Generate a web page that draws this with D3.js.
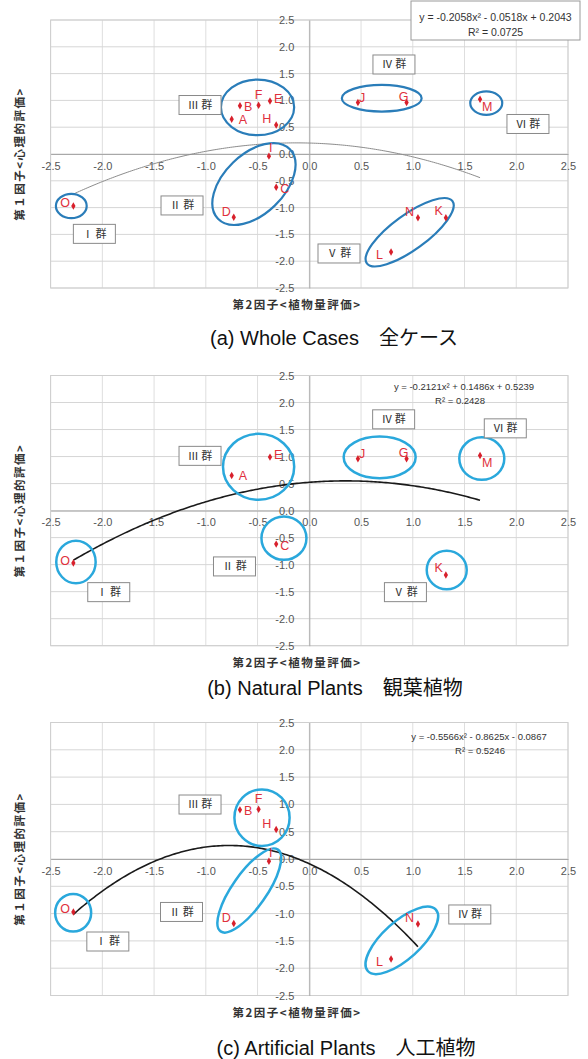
<!DOCTYPE html>
<html>
<head>
<meta charset="utf-8">
<script src="https://cdn.jsdelivr.net/npm/d3@7"></script>
<style>
  body { margin: 0; background: #fff; }
  text { font-family: "Liberation Sans", Arial, sans-serif; }
</style>
</head>
<body>
<div id="chart"></div>
<script>
// --- data ---
const caseIds = ["A", "B", "C", "D", "E", "F", "G", "H", "I", "J", "K", "L", "M", "N", "O"];
const factor2 = [-0.75, -0.67, -0.32, -0.73, -0.38, -0.49, 0.94, -0.32, -0.39, 0.47, 1.32, 0.79, 1.65, 1.05, -2.28]; // x: 植物量評価
const factor1 = [0.65, 0.90, -0.62, -1.18, 0.99, 0.91, 0.96, 0.54, -0.04, 0.96, -1.19, -1.83, 1.02, -1.19, -0.97]; // y: 心理的評価

const casesWhole = caseIds;
const casesNatural = ["A", "E", "J", "G", "M", "C", "O", "K"];
const casesArtificial = ["B", "F", "H", "I", "D", "O", "N", "L"];

const trendWhole = [-0.2058, -0.0518, 0.2043];
const trendNatural = [-0.2121, 0.1486, 0.5239];
const trendArtificial = [-0.5566, -0.8625, -0.0867];

const eqWhole = ["y = -0.2058x\u00b2 - 0.0518x + 0.2043", "R\u00b2 = 0.0725"];
const eqNatural = ["y = -0.2121x\u00b2 + 0.1486x + 0.5239", "R\u00b2 = 0.2428"];
const eqArtificial = ["y = -0.5566x\u00b2 - 0.8625x - 0.0867", "R\u00b2 = 0.5246"];

// group labels, placed in data coordinates
const groupsWhole = [
  { t: "Ⅲ 群", x: -1.056, y: 0.914 }, { t: "Ⅳ 群", x: 0.818, y: 1.67 },
  { t: "Ⅵ 群", x: 2.113, y: 0.56 }, { t: "Ⅱ 群", x: -1.23, y: -0.96 },
  { t: "Ⅰ 群", x: -2.077, y: -1.49 }, { t: "Ⅴ 群", x: 0.287, y: -1.856 }
];
const groupsNatural = [
  { t: "Ⅲ 群", x: -1.056, y: 1.013 }, { t: "Ⅳ 群", x: 0.815, y: 1.689 },
  { t: "Ⅵ 群", x: 1.894, y: 1.522 }, { t: "Ⅱ 群", x: -0.723, y: -1.033 },
  { t: "Ⅰ 群", x: -1.938, y: -1.509 }, { t: "Ⅴ 群", x: 0.929, y: -1.509 }
];
const groupsArtificial = [
  { t: "Ⅲ 群", x: -1.056, y: 0.998 }, { t: "Ⅱ 群", x: -1.235, y: -0.97 },
  { t: "Ⅰ 群", x: -1.947, y: -1.511 }, { t: "Ⅳ 群", x: 1.551, y: -1.016 }
];

// cluster rings: centre in data coords, radii in px, rotation in degrees
const ringsWhole = [
  { cx: -0.50, cy: 0.87, rx: 36.6, ry: 27.8, rot: 0 },
  { cx: -0.535, cy: -0.56, rx: 50, ry: 30, rot: -44 },
  { cx: 0.70, cy: 1.04, rx: 39.9, ry: 13.3, rot: 0 },
  { cx: 1.71, cy: 0.95, rx: 16, ry: 11.7, rot: 0 },
  { cx: -2.30, cy: -0.97, rx: 15.4, ry: 12.2, rot: 0 },
  { cx: 0.97, cy: -1.46, rx: 52.9, ry: 17.5, rot: -36 }
];
const ringsNatural = [
  { cx: -0.49, cy: 0.81, rx: 35.6, ry: 33, rot: 0 },
  { cx: -0.245, cy: -0.51, rx: 22.5, ry: 21.7, rot: 0 },
  { cx: 0.68, cy: 0.985, rx: 36, ry: 20.8, rot: 0 },
  { cx: 1.667, cy: 0.963, rx: 22.5, ry: 21.3, rot: 0 },
  { cx: -2.255, cy: -0.95, rx: 19.7, ry: 21.3, rot: 0 },
  { cx: 1.328, cy: -1.10, rx: 20, ry: 19.3, rot: 0 }
];
const ringsArtificial = [
  { cx: -0.457, cy: 0.756, rx: 27.6, ry: 28.3, rot: 0 },
  { cx: -0.58, cy: -0.577, rx: 49.9, ry: 17.1, rot: -55 },
  { cx: -2.282, cy: -0.985, rx: 18, ry: 18.8, rot: 0 },
  { cx: 0.894, cy: -1.49, rx: 45.8, ry: 18.8, rot: -42 }
];

const tickVals = [-2.5, -2.0, -1.5, -1.0, -0.5, 0.0, 0.5, 1.0, 1.5, 2.0, 2.5];

// point label placement: [dx, dy, anchor]
const labelPlace = {
  A: [7, 5, "start"], B: [4, 5, "start"], C: [4, 6, "start"], D: [-3, -1, "end"],
  E: [4, 2, "start"], F: [0, -6, "middle"], G: [-3, -1.5, "middle"], H: [-5, -2, "end"],
  I: [0, -4, "start"], J: [1, -1, "start"], K: [-3, -3, "end"], L: [-8, 7, "end"],
  M: [2, 12, "start"], N: [-4, -2, "end"], O: [-3.5, 1.5, "end"]
};

const W = 588, H = 1059;
const svg = d3.select("#chart").append("svg")
  .attr("width", W).attr("height", H)
  .style("display", "block");
svg.append("rect").attr("width", W).attr("height", H).attr("fill", "#fff");

const x = d3.scaleLinear().domain([-2.5, 2.5]).range([50.6, 568]);
const fmt = d => d.toFixed(1);

function drawPanel(opt) {
  const y = d3.scaleLinear().domain([-2.5, 2.5]).range([opt.bottom, opt.top]);
  const g = svg.append("g");

  // grid
  g.selectAll(".vg").data(tickVals).join("line")
    .attr("x1", d => x(d)).attr("x2", d => x(d))
    .attr("y1", opt.top).attr("y2", opt.bottom)
    .attr("stroke", "#dedede").attr("stroke-width", 1);
  g.selectAll(".hg").data(tickVals).join("line")
    .attr("x1", x(-2.5)).attr("x2", x(2.5))
    .attr("y1", d => y(d)).attr("y2", d => y(d))
    .attr("stroke", "#d6d6d6").attr("stroke-width", 1);
  g.append("rect")
    .attr("x", x(-2.5)).attr("y", opt.top)
    .attr("width", x(2.5) - x(-2.5)).attr("height", opt.bottom - opt.top)
    .attr("fill", "none").attr("stroke", "#cfcfcf");

  // axes crossing at 0
  const ax = g.append("g")
    .attr("transform", `translate(0,${y(0)})`)
    .call(d3.axisBottom(x).tickValues(tickVals).tickFormat(fmt).tickSize(0).tickSizeOuter(0).tickPadding(8));
  const ay = g.append("g")
    .attr("transform", `translate(${x(0)},0)`)
    .call(d3.axisLeft(y).tickValues(tickVals).tickFormat(fmt).tickSize(0).tickSizeOuter(0).tickPadding(15));
  [ax, ay].forEach(a => {
    a.select(".domain").attr("stroke", "#a8a8a8");
    a.selectAll("text").attr("fill", "#555").attr("font-size", 11)
      .style("font-family", "'Liberation Sans', Arial, sans-serif");
  });

  // trend curve
  const [a2, a1, a0] = opt.trend;
  const pts = opt.cases.map(c => factor2[caseIds.indexOf(c)]);
  const xmin = d3.min(pts), xmax = d3.max(pts);
  const xs = d3.range(xmin, xmax, 0.02).concat([xmax]);
  g.append("path")
    .datum(xs)
    .attr("fill", "none")
    .attr("stroke", opt.curveColor)
    .attr("stroke-width", opt.curveWidth)
    .attr("d", d3.line().x(d => x(d)).y(d => y(a2 * d * d + a1 * d + a0)));

  // cluster rings
  g.selectAll(".ring").data(opt.rings).join("ellipse")
    .attr("transform", d => `translate(${x(d.cx)},${y(d.cy)}) rotate(${d.rot})`)
    .attr("rx", d => d.rx).attr("ry", d => d.ry)
    .attr("fill", "none")
    .attr("stroke", opt.ringColor)
    .attr("stroke-width", opt.ringWidth);

  // points
  const data = opt.cases.map(c => {
    const i = caseIds.indexOf(c);
    return { id: c, fx: factor2[i], fy: factor1[i] };
  });
  g.selectAll(".pt").data(data).join("path")
    .attr("transform", d => `translate(${x(d.fx)},${y(d.fy)})`)
    .attr("d", d3.symbol(d3.symbolDiamond, 16))
    .attr("fill", "#d8202c");
  g.selectAll(".pl").data(data).join("text")
    .attr("x", d => x(d.fx) + labelPlace[d.id][0])
    .attr("y", d => y(d.fy) + labelPlace[d.id][1])
    .attr("text-anchor", d => labelPlace[d.id][2])
    .attr("font-size", 12.5)
    .attr("fill", "#e0303c")
    .text(d => d.id);

  // group boxes
  const gb = g.selectAll(".gb").data(opt.groups).join("g")
    .attr("transform", d => `translate(${x(d.x)},${y(d.y)})`);
  gb.append("rect")
    .attr("x", -21).attr("y", -9.5).attr("width", 42).attr("height", 19)
    .attr("fill", "#fff").attr("stroke", "#8a8a8a").attr("stroke-width", 1);
  gb.append("text")
    .attr("text-anchor", "middle").attr("dy", "0.36em")
    .attr("font-size", 11)
    .attr("fill", "#333")
    .style("font-family", "'Noto Sans CJK JP', sans-serif")
    .text(d => d.t);

  // equation
  if (opt.eqBox) {
    g.append("rect")
      .attr("x", opt.eqBox[0]).attr("y", opt.eqBox[1])
      .attr("width", opt.eqBox[2]).attr("height", opt.eqBox[3])
      .attr("fill", "#fff").attr("stroke", "#9a9a9a");
  }
  g.selectAll(".eq").data(opt.eq).join("text")
    .attr("x", (d, i) => opt.eqX[i])
    .attr("y", (d, i) => opt.eqY[i])
    .attr("text-anchor", "middle")
    .attr("font-size", opt.eqSize)
    .attr("fill", "#333")
    .text(d => d);

  // axis titles
  g.append("text")
    .attr("transform", `translate(20,${(opt.top + opt.bottom) / 2}) rotate(-90)`)
    .attr("text-anchor", "middle").attr("dy", "0.35em")
    .attr("font-size", 11.5).attr("font-weight", "bold")
    .attr("letter-spacing", 1.5)
    .attr("fill", "#333")
    .style("font-family", "'Noto Sans CJK JP', sans-serif")
    .text("第１因子<心理的評価>");
  g.append("text")
    .attr("x", 297).attr("y", opt.bottom + 17)
    .attr("text-anchor", "middle").attr("dy", "0.35em")
    .attr("font-size", 11.5).attr("font-weight", "bold")
    .attr("letter-spacing", 1.5)
    .attr("fill", "#333")
    .style("font-family", "'Noto Sans CJK JP', sans-serif")
    .text("第2因子<植物量評価>");

  // caption
  g.append("text")
    .attr("x", opt.capX).attr("y", opt.capY)
    .attr("text-anchor", "middle").attr("dy", "0.35em")
    .attr("font-size", 20)
    .attr("fill", "#111")
    .style("font-family", "'Liberation Sans', 'Noto Sans CJK JP', sans-serif")
    .text(opt.caption);
}

drawPanel({
  top: 20, bottom: 288, cases: casesWhole, trend: trendWhole,
  curveColor: "#8c8c8c", curveWidth: 1,
  rings: ringsWhole, ringColor: "#2a7db9", ringWidth: 2.2,
  groups: groupsWhole,
  eq: eqWhole, eqBox: [411, 1, 169, 39], eqX: [495.5, 495.5], eqY: [20.5, 36], eqSize: 10.5,
  caption: "(a) Whole Cases\u3000全ケース", capX: 334, capY: 338
});
drawPanel({
  top: 375.5, bottom: 645.7, cases: casesNatural, trend: trendNatural,
  curveColor: "#1a1a1a", curveWidth: 1.6,
  rings: ringsNatural, ringColor: "#2aa8dc", ringWidth: 2.5,
  groups: groupsNatural,
  eq: eqNatural, eqBox: null, eqX: [464, 460], eqY: [390, 403.5], eqSize: 9.5,
  caption: "(b) Natural Plants\u3000観葉植物", capX: 335, capY: 688
});
drawPanel({
  top: 722.5, bottom: 995.5, cases: casesArtificial, trend: trendArtificial,
  curveColor: "#1a1a1a", curveWidth: 1.6,
  rings: ringsArtificial, ringColor: "#2aa8dc", ringWidth: 2.5,
  groups: groupsArtificial,
  eq: eqArtificial, eqBox: null, eqX: [479, 480], eqY: [739.5, 753.5], eqSize: 9.5,
  caption: "(c) Artificial Plants\u3000人工植物", capX: 346, capY: 1048
});
</script>
</body>
</html>
